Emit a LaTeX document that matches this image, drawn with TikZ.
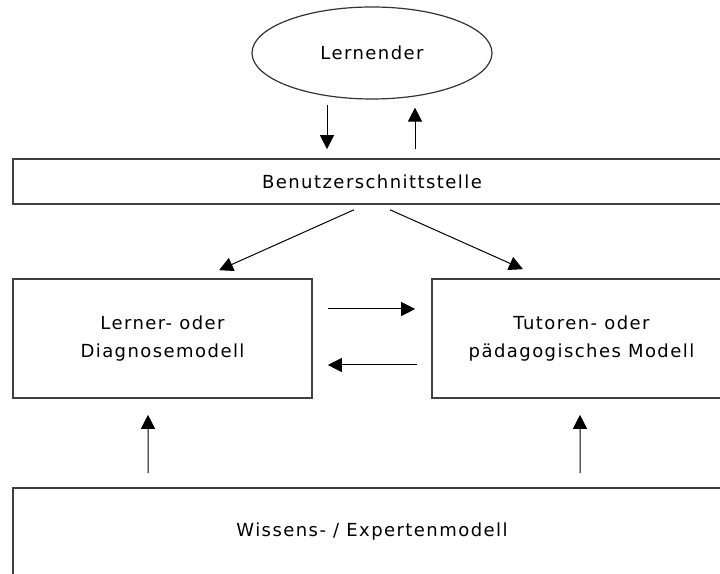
\documentclass[tikz,border=0pt]{standalone}
\usepackage{fontspec}
\setmainfont{DejaVu Sans}[LetterSpace=8]
\usetikzlibrary{arrows.meta,shapes.geometric}
\tikzset{
	kasten/.style={draw=black!75, line width=0.4mm, rectangle, align=center, inner sep=0pt},
	pfeil/.style={line width=0.25mm, -{Triangle[length=3.5mm,width=3.5mm]}},
}

\begin{document}
\begin{tikzpicture}[font=\fontsize{12.8pt}{20pt}\selectfont]
		%%%%% START %%%%%
		\useasboundingbox (0, 0) rectangle (18, 14.35);
		
		\node[draw=black!80, line width=0.3mm, ellipse, minimum width=6cm, minimum height=2.3cm, inner sep=0pt] (lern) at (9.3, 13.025) {Lernender};
		\node[kasten, minimum width=17.95cm, minimum height=1.125cm] (user) at (9.3, 9.8125) {Benutzerschnittstelle};
		
		\node[kasten, minimum width=7.475cm, minimum height=2.975cm] (lerner) at (4.0625, 5.8875) {Lerner- oder\\Diagnosemodell};
		\node[kasten, minimum width=7.475cm, minimum height=2.975cm] (tutor) at (14.5375, 5.8875) {Tutoren- oder\\pädagogisches Modell};
		
		\node[kasten, minimum width=17.95cm, minimum height=2.2cm] (wissen) at (9.3, 1.05) {Wissens- / Expertenmodell};
		
		\draw[pfeil] ([xshift=-1.125cm, yshift=-0.125cm]lern.south) -- ([xshift=-1.125cm, yshift=0.225cm]user.north);
		\draw[pfeil] ([xshift=1.075cm, yshift=0.225cm]user.north) -- ([xshift=1.075cm, yshift=-0.2cm]lern.south);
		
		\draw[pfeil] ([xshift=-0.45cm, yshift=-0.125cm]user.south) -- ([xshift=1.4125cm, yshift=0.2cm]lerner.north);
		\draw[pfeil] ([xshift=0.45cm, yshift=-0.125cm]user.south) -- ([xshift=-1.4625cm, yshift=0.225cm]tutor.north);
		
		\draw[pfeil] ([xshift=0.375cm, yshift=0.7375cm]lerner.east) -- ([xshift=-0.4cm, yshift=0.7375cm]tutor.west);
		\draw[pfeil] ([xshift=-0.35cm, yshift=-0.6625cm]tutor.west) -- ([xshift=0.375cm, yshift=-0.6625cm]lerner.east);
		
		\draw[pfeil] ([xshift=-5.6cm, yshift=0.35cm]wissen.north) -- ([xshift=-0.3625cm, yshift=-0.4cm]lerner.south);
		\draw[pfeil] ([xshift=5.2cm, yshift=0.35cm]wissen.north) -- ([xshift=-0.0375cm, yshift=-0.4cm]tutor.south);
		%%%%% END %%%%%
	\end{tikzpicture}
\end{document}
